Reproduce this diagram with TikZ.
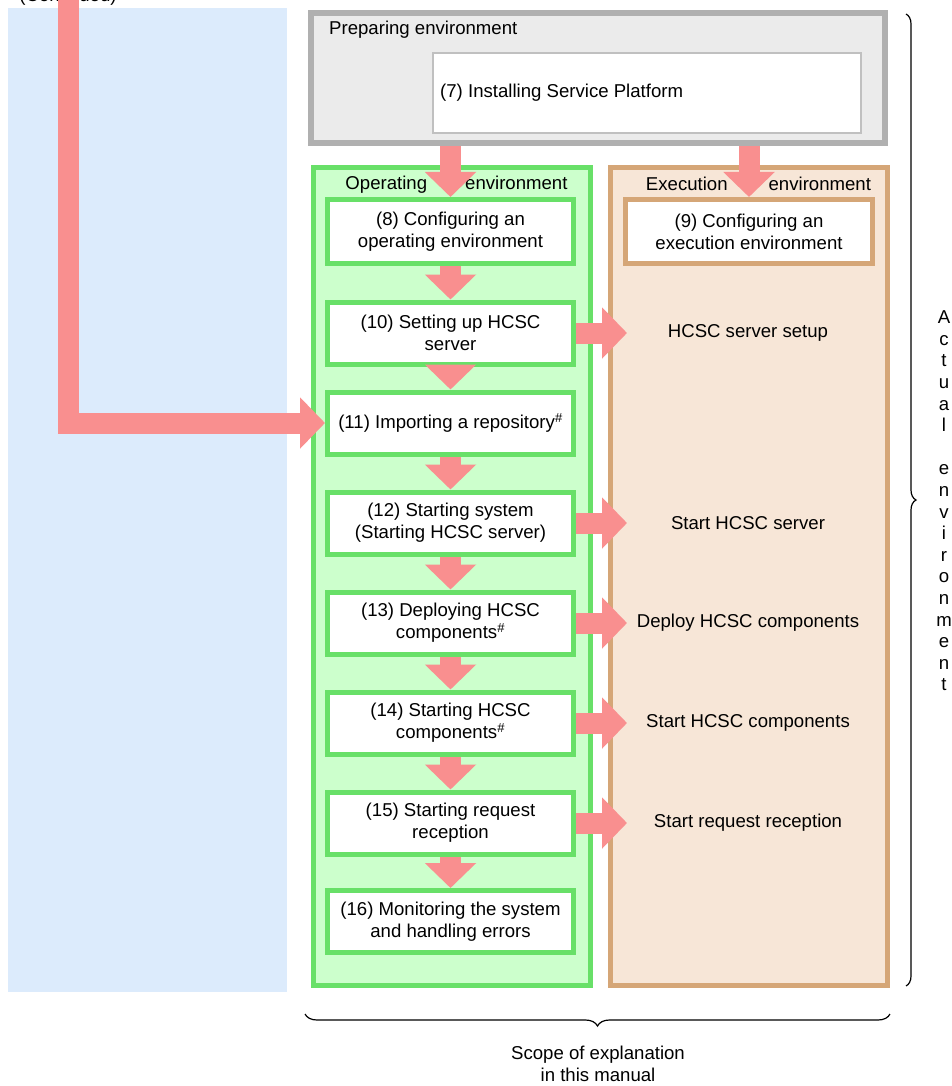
\documentclass[tikz,border=0pt]{standalone}
\usepackage{fontspec}
\setmainfont{Liberation Sans}
\usetikzlibrary{arrows.meta,decorations.pathreplacing,calc}
\definecolor{arrowpink}{HTML}{F98F8F}
\definecolor{bluebg}{HTML}{DCEBFC}
\definecolor{grayborder}{HTML}{B0B0B0}
\definecolor{grayfill}{HTML}{EBEBEB}
\definecolor{greenborder}{HTML}{68E068}
\definecolor{greenfill}{HTML}{CCFFCC}
\definecolor{tanborder}{HTML}{D5A677}
\definecolor{tanfill}{HTML}{F7E6D7}
\tikzset{
  txt/.style={font=\fontsize{18.6}{22}\selectfont, align=center, inner sep=0pt},
  greenstep/.style={draw=greenborder, line width=5pt, fill=white, minimum width=246pt, minimum height=62pt, inner sep=0pt, txt},
  tanstep/.style={draw=tanborder, line width=5pt, fill=white, minimum width=247pt, minimum height=64pt, inner sep=0pt, txt},
  fatarrow/.style={draw=arrowpink, line width=21pt, -{Triangle[width=50pt,length=25pt]}, color=arrowpink},
}
\begin{document}
\begin{tikzpicture}[x=1pt,y=-1pt]
\useasboundingbox (0,0) rectangle (951,1086);
% left blue panel
\fill[bluebg] (8,8) rectangle (287,992);
\node[txt, anchor=base] (cont) at (68,2) {(Continued)};
% preparing environment
\node[draw=grayborder, fill=grayfill, line width=6pt, minimum width=574pt, minimum height=130pt, inner sep=0pt] (prep) at (598,78) {};
\node[txt, anchor=west] (preptitle) at (329,30) {Preparing environment};
\node[draw=grayborder!80, fill=white, line width=1.5pt, minimum width=428pt, minimum height=80pt, inner sep=0pt] (inst) at (647,93) {};
\node[txt, anchor=west] (insttxt) at (440,93) {(7) Installing Service Platform};
% containers
\node[draw=greenborder, fill=greenfill, line width=5pt, minimum width=277pt, minimum height=818pt, inner sep=0pt] (opbox) at (452,576.5) {};
\node[draw=tanborder, fill=tanfill, line width=5pt, minimum width=277pt, minimum height=818pt, inner sep=0pt] (exbox) at (749,576.5) {};
\node[txt] (optitle) at (456.5,185) {Operating\hspace{38pt}environment};
\node[txt] (extitle) at (758.5,184) {Execution\hspace{41pt}environment};
% operating steps
\node[greenstep, minimum height=64pt] (b8) at (450.5,231.5) {(8) Configuring an\\operating environment};
\node[greenstep] (b10) at (450.5,333) {(10) Setting up HCSC\\server};
\node[greenstep] (b11) at (450.5,423) {(11) Importing a repository\textsuperscript{\#}};
\node[greenstep] (b12) at (450.5,523) {(12) Starting system\\(Starting HCSC server)};
\node[greenstep] (b13) at (450.5,623) {(13) Deploying HCSC\\components\textsuperscript{\#}};
\node[greenstep] (b14) at (450.5,723) {(14) Starting HCSC\\components\textsuperscript{\#}};
\node[greenstep] (b15) at (450.5,823) {(15) Starting request\\reception};
\node[greenstep] (b16) at (450.5,921.5) {(16) Monitoring the system\\and handling errors};
% execution
\node[tanstep] (b9) at (749,231.5) {(9) Configuring an\\execution environment};
\node[txt] (e10) at (748,333) {HCSC server setup};
\node[txt] (e12) at (748,523) {Start HCSC server};
\node[txt] (e13) at (748,623) {Deploy HCSC components};
\node[txt] (e14) at (748,723) {Start HCSC components};
\node[txt] (e15) at (748,823) {Start request reception};
% arrows
\coordinate (tipx) at (627,0);
\coordinate (contstart) at (68.5,-5);
\draw[fatarrow] (b8.north |- prep.south) -- (b8.north);
\draw[fatarrow] (b9.north |- prep.south) -- (b9.north);
\draw[fatarrow] (b8.south) -- (b10.north);
\draw[fatarrow] (b10.south) -- (b11.north);
\draw[fatarrow] (b11.south) -- (b12.north);
\draw[fatarrow] (b12.south) -- (b13.north);
\draw[fatarrow] (b13.south) -- (b14.north);
\draw[fatarrow] (b14.south) -- (b15.north);
\draw[fatarrow] (b15.south) -- (b16.north);
\draw[fatarrow] (b10.east) -- (b10.east -| tipx);
\draw[fatarrow] (b12.east) -- (b12.east -| tipx);
\draw[fatarrow] (b13.east) -- (b13.east -| tipx);
\draw[fatarrow] (b14.east) -- (b14.east -| tipx);
\draw[fatarrow] (b15.east) -- (b15.east -| tipx);
\draw[fatarrow] (contstart) |- (b11.west);
% braces
\coordinate (rbtop) at (906,14);
\coordinate (rbbot) at (906,986);
\draw[line width=1.2pt, decorate, decoration={brace, amplitude=10pt}] (rbtop) -- (rbbot);
\node[txt, align=center, font=\fontsize{18.6}{21.6}\selectfont] (actual) at (944,501) {A\\c\\t\\u\\a\\l\\[21.6pt]e\\n\\v\\i\\r\\o\\n\\m\\e\\n\\t};
\coordinate (bbr) at (890,1014);
\coordinate (bbl) at (305,1014);
\draw[line width=1.2pt, decorate, decoration={brace, amplitude=12pt}] (bbr) -- (bbl);
\node[txt] (scope) at (598,1064) {Scope of explanation\\in this manual};
\end{tikzpicture}
\end{document}
